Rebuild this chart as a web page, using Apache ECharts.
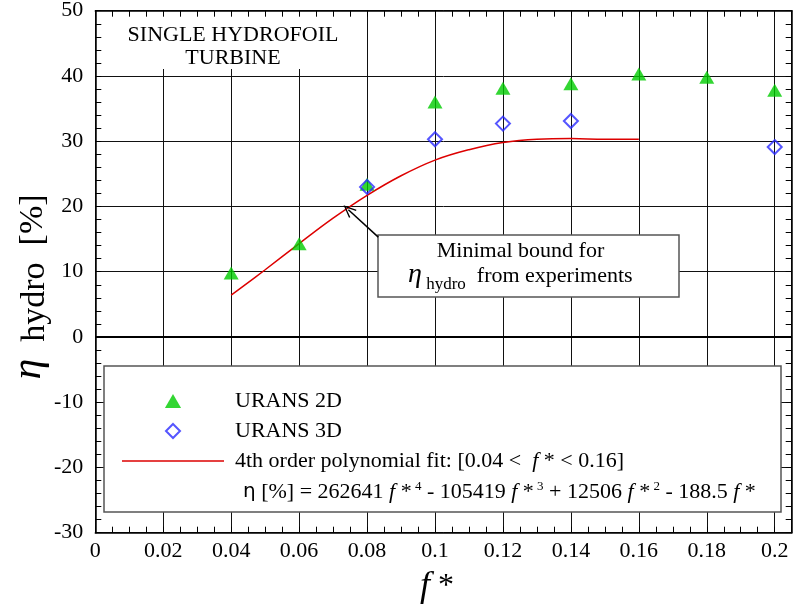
<!DOCTYPE html>
<html>
<head>
<meta charset="utf-8">
<script src="https://cdn.jsdelivr.net/npm/echarts@6/dist/echarts.min.js"></script>
<style>
  html, body { margin: 0; padding: 0; background: #fff; }
  #chart { width: 793px; height: 607px; }
</style>
</head>
<body>
<div id="chart"></div>
<script>
// URANS 2D results (green triangles)
const fStar2D = [0.04, 0.06, 0.08, 0.10, 0.12, 0.14, 0.16, 0.18, 0.20];
const eta2D   = [9.8, 14.3, 23.4, 36.0, 38.1, 38.8, 40.3, 39.8, 37.8];

// URANS 3D results (blue diamonds)
const fStar3D = [0.08, 0.10, 0.12, 0.14, 0.20];
const eta3D   = [23.0, 30.3, 32.7, 33.1, 29.1];

// 4th order polynomial fit of the experimental minimal bound, 0.04 < f* < 0.16
const fitF   = [0.04, 0.05, 0.06, 0.07, 0.08, 0.09, 0.10, 0.11, 0.12, 0.13, 0.14, 0.15, 0.16];
const fitEta = [6.4, 10.3, 14.3, 18.2, 21.7, 24.7, 27.1, 28.7, 29.8, 30.3, 30.4, 30.3, 30.3];

// Arrow from the annotation box to the fit curve: [f*, eta]
const arrowFrom = [0.0833, 15.3];
const arrowTo   = [0.0745, 19.5];

// Axis ranges and ticks
const xMin = 0, xMax = 0.205, xStep = 0.02, xMinorStep = 0.005;
const yMin = -30, yMax = 50, yStep = 10;

const SERIF = "'Liberation Serif', 'Times New Roman', serif";
const name2D = 'URANS 2D';
const name3D = 'URANS 3D';
const nameFit = '4th order polynomial fit';

const zip = (xs, ys) => xs.map((x, i) => [x, ys[i]]);

const chart = echarts.init(document.getElementById('chart'), null, { renderer: 'canvas' });

const tickAxisX = (pos) => ({
  type: 'value', position: pos, min: xMin, max: xMax, interval: xMinorStep, z: 6,
  axisLine: { show: true, onZero: false, lineStyle: { color: '#000', width: 1.5 } },
  axisTick: { show: true, inside: true, length: 6, lineStyle: { color: '#000', width: 1 } },
  axisLabel: { show: false }, splitLine: { show: false }
});
const tickAxisY = (pos) => ({
  type: 'value', position: pos, min: yMin, max: yMax, interval: yStep, z: 6,
  axisLine: { show: true, onZero: false, lineStyle: { color: '#000', width: 1.5 } },
  axisTick: { show: true, inside: true, length: 6, lineStyle: { color: '#000', width: 1 } },
  minorTick: { show: true, splitNumber: 5, length: 6, lineStyle: { color: '#000', width: 1 } },
  axisLabel: { show: false }, splitLine: { show: false }
});

const supStyle = { fontFamily: SERIF, fontSize: 13, color: '#000', verticalAlign: 'top', lineHeight: 24 };
const txt = { fontFamily: SERIF, fontSize: 22, color: '#000', lineHeight: 24 };
const itl = { fontFamily: SERIF, fontSize: 22, color: '#000', fontStyle: 'italic', lineHeight: 24 };

chart.setOption({
  animation: false,
  backgroundColor: '#fff',
  grid: { left: 95.3, right: 1.3, top: 10.7, bottom: 74.3, containLabel: false, outerBoundsMode: 'none' },
  xAxis: [
    {
      type: 'value', position: 'bottom', min: xMin, max: xMax, interval: xStep, z: 0,
      axisLine: { show: false, onZero: false },
      axisTick: { show: false },
      axisLabel: {
        show: true, margin: 8, color: '#000', fontFamily: SERIF, fontSize: 22,
        showMaxLabel: true,
        formatter: (v) => {
          const k = v / xStep;
          return Math.abs(k - Math.round(k)) < 1e-6 ? String(+v.toFixed(2)) : '';
        }
      },
      splitLine: { show: true, lineStyle: { color: '#111', width: 1 } }
    },
    tickAxisX('bottom'),
    tickAxisX('top')
  ],
  yAxis: [
    {
      type: 'value', position: 'left', min: yMin, max: yMax, interval: yStep, z: 0,
      axisLine: { show: false, onZero: false },
      axisTick: { show: false },
      axisLabel: { show: true, margin: 12, color: '#000', fontFamily: SERIF, fontSize: 22 },
      splitLine: { show: true, lineStyle: { color: '#111', width: 1 } }
    },
    tickAxisY('left'),
    tickAxisY('right')
  ],
  legend: {
    orient: 'vertical', left: 117, top: 384, z: 20,
    itemWidth: 102, itemHeight: 14, itemGap: 6,
    selectedMode: false, symbolKeepAspect: true,
    data: [
      { name: name2D, icon: 'path://M0,13 L7.5,0 L15,13 Z' },
      { name: name3D, icon: 'path://M7,0 L14,7 L7,14 L0,7 Z' },
      { name: nameFit, icon: 'path://M0,0 L102,0 L102,1.5 L0,1.5 Z', itemStyle: { color: '#dd0000', borderWidth: 0 } }
    ],
    formatter: (n) => n === nameFit
      ? '{t|4th order polynomial fit: [0.04 <  }{i|f}{t| * < 0.16]}'
      : '{t|' + n + '}',
    textStyle: {
      fontFamily: SERIF, fontSize: 22, color: '#000', lineHeight: 24,
      padding: [0, 0, 0, 6],
      rich: { t: txt, i: itl }
    }
  },
  graphic: [
    {
      type: 'rect', z: 3, silent: true,
      shape: { x: 97, y: 12, width: 253, height: 57 },
      style: { fill: '#fff', stroke: null }
    },
    {
      type: 'text', z: 4, silent: true, x: 233, y: 47,
      style: {
        text: 'SINGLE HYDROFOIL\nTURBINE', fill: '#000', fontFamily: SERIF, fontSize: 22,
        lineHeight: 23, align: 'center', verticalAlign: 'middle'
      }
    },
    {
      type: 'rect', z: 3, silent: true,
      shape: { x: 378, y: 235, width: 301, height: 62 },
      style: { fill: '#fff', stroke: '#555', lineWidth: 1.5 }
    },
    {
      type: 'text', z: 4, silent: true, x: 520.5, y: 251,
      style: {
        text: 'Minimal bound for', fill: '#000', fontFamily: SERIF, fontSize: 22,
        align: 'center', verticalAlign: 'middle'
      }
    },
    {
      type: 'text', z: 4, silent: true, x: 408, y: 275,
      style: {
        text: '{e|η}{s| hydro}{t|  from experiments}',
        align: 'left', verticalAlign: 'middle',
        rich: {
          e: { fontFamily: SERIF, fontSize: 28, fontStyle: 'italic', color: '#000', lineHeight: 28, verticalAlign: 'bottom' },
          s: { fontFamily: SERIF, fontSize: 17, color: '#000', lineHeight: 28, verticalAlign: 'bottom', padding: [0, 0, -4, 0] },
          t: { fontFamily: SERIF, fontSize: 22, color: '#000', lineHeight: 28, verticalAlign: 'bottom', padding: [0, 0, 2, 0] }
        }
      }
    },
    {
      type: 'rect', z: 3, silent: true,
      shape: { x: 104, y: 366, width: 677, height: 146 },
      style: { fill: '#fff', stroke: '#555', lineWidth: 1.5 }
    },
    {
      type: 'text', z: 4, silent: true, x: 243, y: 492,
      style: {
        text: '{g|η}{t| [%] = 262641 }{i|f}{t| *}{u| 4}{t| - 105419 }{i|f}{t| *}{u| 3}{t| + 12506 }{i|f}{t| *}{u| 2}{t| - 188.5 }{i|f}{t| *}',
        align: 'left', verticalAlign: 'middle',
        rich: {
          g: { fontFamily: "'DejaVu Sans', sans-serif", fontSize: 20, color: '#000', lineHeight: 24 },
          t: txt, i: itl, u: supStyle
        }
      }
    },
    {
      type: 'text', z: 4, silent: true, x: 28, y: 287, rotation: Math.PI / 2,
      style: {
        text: '{e|η}{h|  hydro  }{p|[%]}',
        align: 'center', verticalAlign: 'middle',
        rich: {
          e: { fontFamily: SERIF, fontSize: 42, fontStyle: 'italic', color: '#000', lineHeight: 44, verticalAlign: 'bottom' },
          h: { fontFamily: SERIF, fontSize: 34, color: '#000', lineHeight: 44, verticalAlign: 'bottom', padding: [0, 0, -2, 0] },
          p: { fontFamily: SERIF, fontSize: 34, color: '#000', lineHeight: 44, verticalAlign: 'bottom' }
        }
      }
    },
    {
      type: 'text', z: 4, silent: true, x: 437, y: 587,
      style: {
        text: '{i|f}{t| *}', align: 'center', verticalAlign: 'middle',
        rich: {
          i: { fontFamily: SERIF, fontSize: 36, fontStyle: 'italic', color: '#000' },
          t: { fontFamily: SERIF, fontSize: 32, color: '#000' }
        }
      }
    }
  ],
  series: [
    {
      name: name2D, type: 'scatter', xAxisIndex: 0, yAxisIndex: 0, z: 5,
      symbol: 'triangle', symbolSize: [15, 13],
      itemStyle: { color: '#00cc00' },
      data: zip(fStar2D, eta2D),
      markLine: {
        silent: true, symbol: ['none', 'none'], label: { show: false },
        lineStyle: { color: '#000', width: 2, type: 'solid' },
        emphasis: { disabled: true },
        data: [{ yAxis: 0 }]
      }
    },
    {
      name: name3D, type: 'scatter', xAxisIndex: 0, yAxisIndex: 0, z: 6,
      symbol: 'diamond', symbolSize: [14, 14],
      itemStyle: { color: 'rgba(255,255,255,0)', borderColor: '#2a2aff', borderWidth: 2 },
      data: zip(fStar3D, eta3D)
    },
    {
      name: nameFit, type: 'line', xAxisIndex: 0, yAxisIndex: 0, z: 4,
      smooth: 0.4, symbol: 'none', showSymbol: false,
      lineStyle: { color: '#dd0000', width: 1.5 },
      itemStyle: { color: '#dd0000' },
      data: zip(fitF, fitEta),
      markLine: {
        silent: true, label: { show: false },
        symbol: ['none', 'path://M5,0 L10,12 L8.8,12.6 L5,3 L1.2,12.6 L0,12 Z'],
        symbolSize: [11, 13],
        lineStyle: { color: '#000', width: 1.5, type: 'solid' },
        emphasis: { disabled: true },
        data: [[{ coord: arrowFrom }, { coord: arrowTo }]]
      }
    }
  ]
});
</script>
</body>
</html>
